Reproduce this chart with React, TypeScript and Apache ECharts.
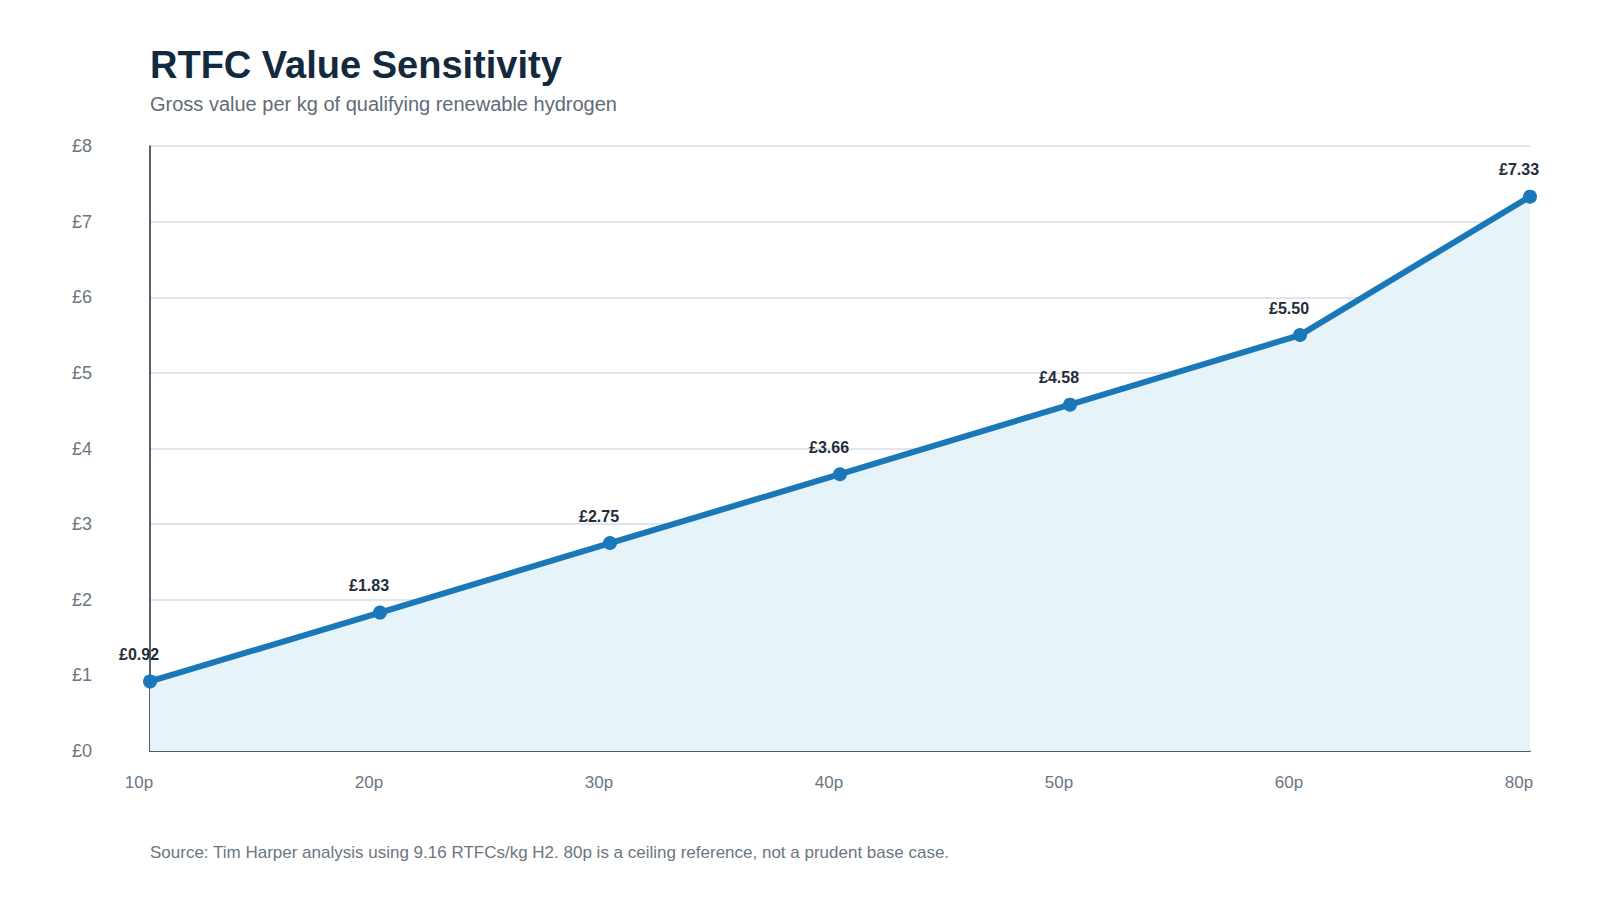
import React, { useEffect, useRef } from "react";
import * as echarts from "echarts";

const categories = ["10p", "20p", "30p", "40p", "50p", "60p", "80p"];
const values = [0.92, 1.83, 2.75, 3.66, 4.58, 5.5, 7.33];
const yTicks = [0, 1, 2, 3, 4, 5, 6, 7, 8];

const TITLE = "RTFC Value Sensitivity";
const SUBTITLE = "Gross value per kg of qualifying renewable hydrogen";
const SOURCE =
  "Source: Tim Harper analysis using 9.16 RTFCs/kg H2. 80p is a ceiling reference, not a prudent base case.";

const FONT = "'Liberation Sans', Arial, Helvetica, sans-serif";

export default function App() {
  const ref = useRef<HTMLDivElement>(null);
  useEffect(() => {
    document.body.style.margin = "0";
    const chart = echarts.init(ref.current!, null, { renderer: "svg" });
    chart.setOption({
      animation: false,
      backgroundColor: "#ffffff",
      textStyle: { fontFamily: FONT },
      title: [
        {
          text: TITLE,
          left: 150,
          top: 43,
          padding: 0,
          textStyle: { fontSize: 38, fontWeight: "bold", color: "#13293d", lineHeight: 44, fontFamily: FONT },
        },
        {
          text: SUBTITLE,
          left: 150,
          top: 92,
          padding: 0,
          textStyle: { fontSize: 20, fontWeight: "normal", color: "#5f6b78", lineHeight: 24, fontFamily: FONT },
        },
        {
          text: SOURCE,
          left: 150,
          top: 842,
          padding: 0,
          textStyle: { fontSize: 17, fontWeight: "normal", color: "#6b7682", lineHeight: 20, fontFamily: FONT },
        },
      ],
      grid: { left: 150, right: 70, top: 146, bottom: 149, containLabel: false },
      xAxis: {
        type: "category",
        data: categories,
        boundaryGap: false,
        axisLine: { show: true, lineStyle: { color: "#1f2d3a", width: 1.5 } },
        axisTick: { show: false },
        splitLine: { show: false },
        axisLabel: {
          color: "#6b7682",
          fontSize: 17,
          margin: 23,
          padding: [0, 22, 0, 0],
          fontFamily: FONT,
        },
      },
      yAxis: {
        type: "value",
        min: yTicks[0],
        max: yTicks[yTicks.length - 1],
        interval: 1,
        axisLine: { show: true, lineStyle: { color: "#1f2d3a", width: 1.5 } },
        axisTick: { show: false },
        splitLine: { show: true, lineStyle: { color: "#d5dde3", width: 1.5 } },
        axisLabel: {
          color: "#6b7682",
          fontSize: 18,
          margin: 58,
          formatter: (v: number) => "£" + v,
          fontFamily: FONT,
        },
      },
      series: [
        {
          type: "line",
          data: values,
          symbol: "circle",
          symbolSize: 14,
          showAllSymbol: true,
          lineStyle: { color: "#1a78b8", width: 6 },
          itemStyle: { color: "#1a78b8" },
          areaStyle: { color: "#e6f3f9", opacity: 1 },
          label: {
            show: true,
            position: "top",
            distance: 12,
            offset: [-11, 0],
            formatter: (p: any) => "£" + Number(p.value).toFixed(2),
            fontSize: 16,
            fontWeight: "bold",
            color: "#1f2d3a",
            fontFamily: FONT,
          },
          z: 3,
        },
      ],
    });
    return () => chart.dispose();
  }, []);
  return <div ref={ref} style={{ width: 1600, height: 900 }} />;
}
